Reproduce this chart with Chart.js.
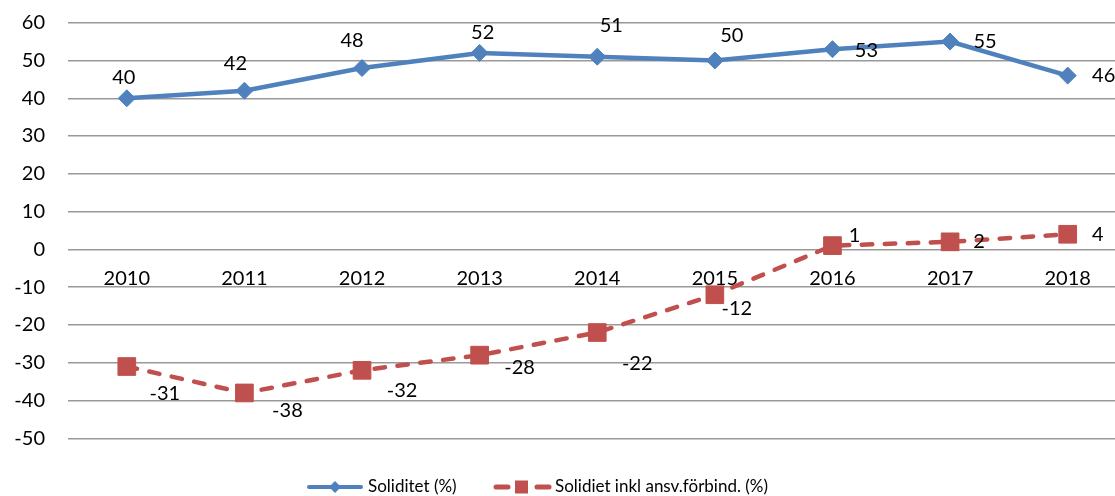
<!DOCTYPE html>
<html>
<head>
<meta charset="utf-8">
<script src="https://cdn.jsdelivr.net/npm/chart.js@4.4.1/dist/chart.umd.min.js"></script>
<style>
  html, body { margin: 0; padding: 0; background: #fff; overflow: hidden; }
</style>
</head>
<body>
<canvas id="chart" width="1140" height="496"></canvas>
<script>
const years = ['2010', '2011', '2012', '2013', '2014', '2015', '2016', '2017', '2018'];
const soliditet = [40, 42, 48, 52, 51, 50, 53, 55, 46];
const solidietInkl = [-31, -38, -32, -28, -22, -12, 1, 2, 4];
const yTickValues = [60, 50, 40, 30, 20, 10, 0, -10, -20, -30, -40, -50];

// where each value label sits relative to its point (dx, dy)
const blueLabelOffsets = [[-3, -21], [-9, -27], [-10, -27], [3, -20], [14, -31], [17, -25], [34, 1], [35, 0], [36, 0]];
const redLabelOffsets = [[38, 27], [43, 18], [40, 20], [40, 12], [40, 31], [22, 14], [22, -10], [29, 0], [30, 0]];

const BLUE = '#4F81BD';
const RED = '#C0504D';
const FONT = 'Lato, "Open Sans", sans-serif';

Chart.defaults.font.family = FONT;
Chart.defaults.color = '#000';

const valueLabels = {
    id: 'valueLabels',
    afterDatasetsDraw(chart) {
        const ctx = chart.ctx;
        ctx.save();
        ctx.font = '20px ' + FONT;
        ctx.fillStyle = '#000';
        ctx.textAlign = 'center';
        ctx.textBaseline = 'middle';
        chart.data.datasets.forEach((ds, i) => {
            const meta = chart.getDatasetMeta(i);
            meta.data.forEach((pt, j) => {
                const off = ds.labelOffsets[j];
                ctx.fillText(String(ds.data[j]), pt.x + off[0], pt.y + off[1]);
            });
        });
        ctx.restore();
    }
};

const bottomLegend = {
    id: 'bottomLegend',
    afterDraw(chart) {
        const ctx = chart.ctx;
        const y = 487;
        const ds = chart.data.datasets;
        ctx.save();

        // blue: solid line with a diamond
        ctx.strokeStyle = BLUE;
        ctx.lineWidth = 4;
        ctx.lineCap = 'round';
        ctx.beginPath();
        ctx.moveTo(309, y);
        ctx.lineTo(361, y);
        ctx.stroke();
        ctx.fillStyle = BLUE;
        ctx.beginPath();
        ctx.moveTo(335, y - 6);
        ctx.lineTo(341, y);
        ctx.lineTo(335, y + 6);
        ctx.lineTo(329, y);
        ctx.closePath();
        ctx.fill();

        // red: dashes with a square
        ctx.strokeStyle = RED;
        ctx.lineWidth = 5;
        ctx.beginPath();
        ctx.moveTo(496, y);
        ctx.lineTo(508, y);
        ctx.moveTo(537, y);
        ctx.lineTo(549, y);
        ctx.stroke();
        ctx.fillStyle = RED;
        ctx.fillRect(515, y - 6.5, 13, 13);

        ctx.font = '17px ' + FONT;
        ctx.fillStyle = '#000';
        ctx.textBaseline = 'middle';
        ctx.textAlign = 'left';
        ctx.fillText(ds[0].label, 368, y);
        ctx.fillText(ds[1].label, 555, y);
        ctx.restore();
    }
};

new Chart(document.getElementById('chart'), {
    type: 'line',
    data: {
        labels: years,
        datasets: [{
            label: 'Soliditet (%)',
            data: soliditet,
            labelOffsets: blueLabelOffsets,
            borderColor: BLUE,
            backgroundColor: BLUE,
            borderWidth: 4.5,
            tension: 0,
            pointStyle: 'rectRot',
            pointRadius: 8.5,
            pointBorderWidth: 1,
            pointBackgroundColor: BLUE,
            pointBorderColor: BLUE
        }, {
            label: 'Solidiet inkl ansv.förbind. (%)',
            data: solidietInkl,
            labelOffsets: redLabelOffsets,
            borderColor: RED,
            backgroundColor: RED,
            borderWidth: 4.5,
            borderDash: [10.5, 12.5],
            borderCapStyle: 'round',
            tension: 0,
            pointStyle: 'rect',
            pointRadius: 12.5,
            pointBorderWidth: 1,
            pointBackgroundColor: RED,
            pointBorderColor: RED
        }]
    },
    options: {
        responsive: false,
        animation: false,
        events: [],
        layout: {
            padding: { top: 22.7, bottom: 57.7, left: 0, right: 0 }
        },
        plugins: {
            legend: { display: false },
            tooltip: { enabled: false }
        },
        scales: {
            x: {
                type: 'category',
                offset: true,
                position: { y: 0 },
                grid: { display: false, drawTicks: false },
                border: { display: false },
                ticks: {
                    color: '#000',
                    font: { size: 20 },
                    padding: 17.5,
                    maxRotation: 0,
                    autoSkip: false
                }
            },
            y: {
                min: -50,
                max: 60,
                afterBuildTicks: scale => {
                    scale.ticks = yTickValues.map(v => ({ value: v }));
                },
                afterFit: scale => {
                    scale.width = 68;
                    scale.paddingTop = 0;
                    scale.paddingBottom = 0;
                },
                grid: {
                    color: '#999',
                    lineWidth: 1.5,
                    drawTicks: false
                },
                border: { display: false },
                ticks: {
                    color: '#000',
                    font: { size: 20 },
                    padding: 23
                }
            }
        }
    },
    plugins: [valueLabels, bottomLegend]
});
</script>
</body>
</html>
